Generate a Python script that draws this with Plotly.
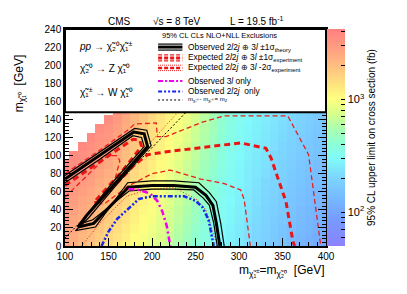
import math
import plotly.graph_objects as go

F = "Liberation Sans"

# ---------------- data ----------------
mass_x = [100, 110, 120, 130, 140, 150, 160, 170, 180, 190, 200, 210, 220, 230, 240, 250,
          260, 270, 280, 290, 300, 310, 320, 330, 340, 350, 360, 370, 380, 390, 400]
mass_y = [0, 10, 20, 30, 40, 50, 60, 70, 80, 90, 100, 110, 120, 130, 140, 150]

# log10 of the 95% CL upper limit (fb), one list per chargino mass column, from LSP mass 0 upward
lim_cols = [
    [3.42, 3.44, 3.45, 3.47, 3.48, 3.50, 3.51, 3.53, 3.54, 3.56],
    [3.36, 3.38, 3.40, 3.42, 3.44, 3.46, 3.48, 3.50, 3.52, 3.54, 3.56],
    [3.31, 3.33, 3.36, 3.38, 3.40, 3.42, 3.45, 3.47, 3.49, 3.51, 3.54, 3.56],
    [3.26, 3.29, 3.31, 3.34, 3.36, 3.39, 3.41, 3.44, 3.46, 3.49, 3.51, 3.54, 3.56],
    [3.21, 3.24, 3.26, 3.29, 3.31, 3.34, 3.37, 3.39, 3.42, 3.45, 3.47, 3.50, 3.52, 3.55],
    [3.15, 3.18, 3.21, 3.23, 3.26, 3.29, 3.32, 3.35, 3.37, 3.40, 3.43, 3.46, 3.49, 3.51, 3.54],
    [3.10, 3.13, 3.15, 3.18, 3.21, 3.24, 3.26, 3.29, 3.32, 3.34, 3.37, 3.40, 3.43, 3.45, 3.48, 3.52],
    [3.05, 3.08, 3.10, 3.13, 3.15, 3.18, 3.20, 3.23, 3.25, 3.28, 3.30, 3.33, 3.35, 3.38, 3.40, 3.44],
    [3.00, 3.02, 3.05, 3.07, 3.09, 3.11, 3.14, 3.16, 3.18, 3.21, 3.23, 3.25, 3.27, 3.30, 3.32, 3.35],
    [2.96, 2.98, 3.00, 3.02, 3.04, 3.06, 3.08, 3.10, 3.13, 3.15, 3.17, 3.19, 3.21, 3.23, 3.25, 3.27],
    [2.92, 2.94, 2.96, 2.98, 2.99, 3.01, 3.03, 3.05, 3.07, 3.09, 3.11, 3.12, 3.14, 3.16, 3.18, 3.20],
    [2.87, 2.89, 2.91, 2.92, 2.94, 2.96, 2.98, 3.00, 3.01, 3.03, 3.05, 3.07, 3.08, 3.10, 3.12, 3.14],
    [2.81, 2.83, 2.85, 2.86, 2.88, 2.90, 2.92, 2.94, 2.95, 2.97, 2.99, 3.01, 3.02, 3.04, 3.06, 3.08],
    [2.74, 2.76, 2.78, 2.80, 2.81, 2.83, 2.85, 2.87, 2.89, 2.91, 2.93, 2.94, 2.96, 2.98, 3.00, 3.02],
    [2.67, 2.69, 2.71, 2.73, 2.75, 2.77, 2.79, 2.81, 2.82, 2.84, 2.86, 2.88, 2.90, 2.92, 2.94, 2.96],
    [2.61, 2.63, 2.65, 2.67, 2.68, 2.70, 2.72, 2.74, 2.76, 2.78, 2.80, 2.81, 2.83, 2.85, 2.87, 2.89],
    [2.55, 2.57, 2.58, 2.60, 2.62, 2.64, 2.65, 2.67, 2.69, 2.70, 2.72, 2.74, 2.76, 2.77, 2.79, 2.81],
    [2.50, 2.52, 2.53, 2.55, 2.56, 2.58, 2.59, 2.61, 2.62, 2.64, 2.65, 2.67, 2.68, 2.70, 2.71, 2.73],
    [2.46, 2.47, 2.48, 2.50, 2.51, 2.52, 2.53, 2.54, 2.56, 2.57, 2.58, 2.59, 2.61, 2.62, 2.63, 2.64],
    [2.42, 2.43, 2.44, 2.45, 2.46, 2.47, 2.48, 2.49, 2.50, 2.51, 2.52, 2.53, 2.54, 2.55, 2.56, 2.57],
    [2.38, 2.39, 2.40, 2.41, 2.42, 2.43, 2.44, 2.45, 2.45, 2.46, 2.47, 2.48, 2.49, 2.50, 2.51, 2.52],
    [2.34, 2.35, 2.36, 2.37, 2.38, 2.39, 2.40, 2.41, 2.41, 2.42, 2.43, 2.44, 2.45, 2.46, 2.47, 2.48],
    [2.30, 2.31, 2.32, 2.33, 2.34, 2.35, 2.36, 2.37, 2.38, 2.39, 2.40, 2.41, 2.42, 2.43, 2.44, 2.45],
    [2.26, 2.27, 2.28, 2.29, 2.30, 2.31, 2.32, 2.33, 2.35, 2.36, 2.37, 2.38, 2.39, 2.40, 2.41, 2.42],
    [2.22, 2.23, 2.24, 2.25, 2.27, 2.28, 2.29, 2.30, 2.31, 2.32, 2.33, 2.35, 2.36, 2.37, 2.38, 2.39],
    [2.18, 2.19, 2.20, 2.22, 2.23, 2.24, 2.25, 2.27, 2.28, 2.29, 2.30, 2.31, 2.33, 2.34, 2.35, 2.36],
    [2.14, 2.15, 2.17, 2.18, 2.19, 2.20, 2.22, 2.23, 2.24, 2.26, 2.27, 2.28, 2.29, 2.31, 2.32, 2.33],
    [2.10, 2.11, 2.13, 2.14, 2.15, 2.17, 2.18, 2.20, 2.21, 2.22, 2.24, 2.25, 2.26, 2.28, 2.29, 2.30],
    [2.07, 2.08, 2.10, 2.11, 2.12, 2.14, 2.15, 2.17, 2.18, 2.19, 2.21, 2.22, 2.23, 2.25, 2.26, 2.27],
    [2.04, 2.05, 2.07, 2.08, 2.09, 2.11, 2.12, 2.14, 2.15, 2.16, 2.18, 2.19, 2.20, 2.22, 2.23, 2.24],
    [2.01, 2.02, 2.04, 2.05, 2.06, 2.08, 2.09, 2.11, 2.12, 2.13, 2.15, 2.16, 2.17, 2.19, 2.20, 2.21],
]

# contours (chargino mass, LSP mass)
obs_x = [100, 140, 179, 191, 195, 160, 125, 115, 133, 173, 200, 225, 250, 262, 270, 274, 278]
obs_y = [74, 100, 126, 124, 110, 72, 34, 21, 25, 65, 67, 67, 65, 56, 45, 25, 0]
obs_up_x = [100, 140, 180, 194, 199, 163, 127, 112, 135, 172, 200, 225, 254, 266, 274, 279, 283]
obs_up_y = [78, 104, 130, 128, 111, 72, 31, 17, 21, 70, 72, 72, 70, 59, 49, 25, 0]
obs_dn_x = [100, 140, 178, 188, 191, 157, 128, 119, 132, 174, 200, 225, 248, 259, 266, 271, 275]
obs_dn_y = [70, 96, 122, 120, 110, 73, 38, 25, 29, 61, 63, 63, 62, 53, 45, 25, 0]

exp_x = [100, 140, 178, 186, 188, 165, 140, 133, 138, 160, 180, 195, 215, 258, 302, 331, 337, 344, 354, 362, 364]
exp_y = [67, 93, 118, 117, 110, 82, 55, 48, 48, 70, 90, 101, 104, 109, 114, 108, 97, 77, 49, 5, 0]
exp_up_x = [100, 140, 172, 180, 205, 206, 216, 240, 258, 283, 356, 380, 393, 394]
exp_up_y = [80, 106, 128, 135, 136, 121, 121, 130, 137, 144, 144, 101, 5, 0]
exp_dn_x = [100, 149, 160, 163, 158, 146, 140, 146, 172, 200, 221, 256, 283, 302, 306, 313]
exp_dn_y = [54, 100, 100, 94, 76, 56, 47, 47, 66, 80, 84, 74, 69, 62, 51, 0]
exp_2s_x = [119, 140, 171, 194, 225, 252, 262, 275, None, 192, 228]
exp_2s_y = [0, 25, 55, 62, 65, 51, 40, 0, None, 108, 146]

obs3l_x = [173, 185, 198, 206, 212, 217, 221]
obs3l_y = [63, 62, 58, 50, 38, 22, 0]
obs2l_x = [142, 150, 160, 173, 185, 200, 237, 250, 258, 265, 271]
obs2l_y = [0, 16, 30, 42, 52, 55, 55, 50, 43, 29, 0]

mZ = 91.2
diag_x = [100, 239]

cb_decades = [100, 1000]
cb_minor = [50, 60, 70, 80, 90, 200, 300, 400, 500, 600, 700, 800, 900, 2000, 3000, 4000]
z_lo, z_hi = 50, 4200

# ---------------- build ----------------
z = []
for j in range(len(mass_y)):
    row = []
    for i in range(len(mass_x)):
        col = lim_cols[i]
        row.append(col[j] if j < len(col) else None)
    z.append(row)

cscale = [
    [0.00, "rgb(140,130,255)"], [0.12, "rgb(118,155,255)"], [0.22, "rgb(118,185,255)"],
    [0.32, "rgb(125,215,255)"], [0.40, "rgb(128,250,250)"], [0.47, "rgb(140,255,215)"],
    [0.54, "rgb(170,255,175)"], [0.61, "rgb(215,255,140)"], [0.68, "rgb(255,255,128)"],
    [0.75, "rgb(255,225,128)"], [0.83, "rgb(255,190,128)"], [0.92, "rgb(255,155,128)"],
    [1.00, "rgb(255,128,128)"],
]

tv = [math.log10(v) for v in cb_decades + cb_minor]
tt = ["10<sup>2</sup>", "10<sup>3</sup>"] + [""] * len(cb_minor)

fig = go.Figure()
fig.add_trace(go.Heatmap(
    x=mass_x, y=mass_y, z=z, zmin=math.log10(z_lo), zmax=math.log10(z_hi),
    colorscale=cscale, hoverinfo="skip",
    colorbar=dict(x=1.004, xanchor="left", xpad=0, y=0.5, yanchor="middle", ypad=0,
                  len=1, lenmode="fraction", thickness=18, outlinewidth=0,
                  ticks="inside", ticklen=4, tickcolor="black",
                  tickvals=tv, ticktext=tt,
                  tickfont=dict(family=F, size=11, color="black"),
                  title=dict(text="95% CL upper limit on cross section (fb)", side="right",
                             font=dict(family=F, size=10, color="black"))),
))


def line(x, y, color, width, dash="solid"):
    fig.add_trace(go.Scatter(x=x, y=y, mode="lines", hoverinfo="skip", showlegend=False,
                             line=dict(color=color, width=width, dash=dash)))


line(diag_x, [v - mZ for v in diag_x], "black", 1, "2px,2px")
line(exp_up_x, exp_up_y, "rgb(235,30,30)", 1.3, "5px,3px")
line(exp_dn_x, exp_dn_y, "rgb(235,30,30)", 1.3, "5px,3px")
line(exp_2s_x, exp_2s_y, "rgb(235,30,30)", 1, "1px,2px")
line(exp_x, exp_y, "rgb(235,20,20)", 3, "6px,4px")
line(obs_up_x, obs_up_y, "black", 1.2)
line(obs_dn_x, obs_dn_y, "black", 1.2)
line(obs_x, obs_y, "black", 3)
line(obs3l_x, obs3l_y, "rgb(240,0,240)", 2.5, "6px,3px,2px,3px")
line(obs2l_x, obs2l_y, "rgb(20,40,240)", 2.5, "5px,2px,2px,2px,2px,2px")

shapes = [dict(type="rect", xref="x", yref="y", x0=100, x1=400, y0=148, y1=240,
               fillcolor="white", line=dict(color="black", width=2), layer="above")]


def sym(y, color, width, dash="solid"):
    shapes.append(dict(type="line", xref="x", yref="y", x0=207, x1=235, y0=y, y1=y,
                       line=dict(color=color, width=width, dash=dash), layer="above"))


# legend symbols
sym(223.3, "black", 1.2); sym(220, "black", 3); sym(216.7, "black", 1.2)
sym(211.3, "rgb(235,30,30)", 1.3, "4px,2px"); sym(208, "rgb(235,20,20)", 3, "4px,2px"); sym(204.7, "rgb(235,30,30)", 1.3, "4px,2px")
sym(200, "rgb(235,30,30)", 1, "1px,1px"); sym(197, "rgb(235,20,20)", 2.5, "4px,2px"); sym(194, "rgb(235,30,30)", 1, "1px,1px")
sym(182.5, "rgb(240,0,240)", 2, "5px,2px,2px,2px")
sym(171, "rgb(20,40,240)", 2, "4px,2px,2px,2px,2px,2px")
sym(161.5, "black", 1, "2px,2px")

ann = []


def txt(x, y, s, size, xref="x", yref="y", xanchor="left", yanchor="middle", angle=0):
    ann.append(dict(x=x, y=y, xref=xref, yref=yref, text=s, showarrow=False,
                    xanchor=xanchor, yanchor=yanchor, textangle=angle,
                    font=dict(family=F, size=size, color="black")))


L2J = "2<i>l</i>2<i>j</i> ⊕ 3<i>l</i>"
LS = 8.4
txt(209, 232.5, "95% CL CLs NLO+NLL Exclusions", 7.5)
txt(239, 220, "Observed " + L2J + " ±1σ<sub>theory</sub>", LS)
txt(239, 208, "Expected " + L2J + " ±1σ<sub>experiment</sub>", LS)
txt(239, 197, "Expected " + L2J + " -2σ<sub>experiment</sub>", LS)
txt(239, 182.5, "Observed 3<i>l</i> only", LS)
txt(239, 171, "Observed 2<i>l</i>2<i>j</i>  only", LS)
txt(239, 161.5, "m<sub>χ̃₂⁰</sub> - m<sub>χ̃₁⁰</sub> = m<sub>Z</sub>", 6)

txt(114, 221, "<i>pp</i> → χ̃₂⁰χ̃₁<sup>±</sup>", 10)
txt(115, 196, "χ̃₂⁰ → Z χ̃₁⁰", 10)
txt(115, 170, "χ̃₁<sup>±</sup> → W χ̃₁⁰", 10)

# header
txt(0.207, 1.035, "CMS", 10, "paper", "paper", "center")
txt(0.429, 1.035, "√s = 8 TeV", 10, "paper", "paper", "center")
txt(0.736, 1.035, "L = 19.5 fb<sup>-1</sup>", 10, "paper", "paper", "center")

# axis titles
txt(1.0, -0.068, "m<sub>χ̃₁<sup>±</sup></sub>=m<sub>χ̃₂⁰</sub>  [GeV]", 12, "paper", "paper", "right", "top")
txt(-0.172, 0.75, "m<sub>χ̃₁⁰</sub>  [GeV]", 12, "paper", "paper", "center", "middle", -90)

axis_common = dict(showgrid=False, zeroline=False, showline=True, linecolor="black", linewidth=1.5,
                   mirror="ticks", ticks="inside", tickcolor="black", ticklen=8,
                   tickfont=dict(family=F, size=10, color="black"))

fig.update_layout(
    width=407, height=294, margin=dict(l=65, r=81, t=29, b=48),
    plot_bgcolor="white", paper_bgcolor="white", showlegend=False,
    xaxis=dict(range=[100, 400], tick0=100, dtick=50,
               minor=dict(ticks="inside", dtick=10, ticklen=4, tickcolor="black"), **axis_common),
    yaxis=dict(range=[0, 240], tick0=0, dtick=20,
               minor=dict(ticks="inside", dtick=4, ticklen=4, tickcolor="black"), **axis_common),
    shapes=shapes, annotations=ann,
)

fig.write_html("out.html", config={"displayModeBar": False},
               post_script="document.body.style.margin='0px';")
